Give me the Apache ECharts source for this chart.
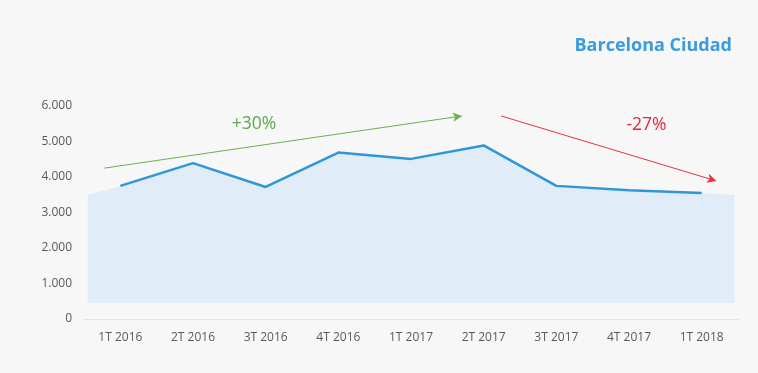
<!DOCTYPE html>
<html><head><meta charset="utf-8">
<script src="https://cdn.jsdelivr.net/npm/echarts@6/dist/echarts.min.js"></script>
<style>html,body{margin:0;padding:0;background:#f7f7f7}#c{width:758px;height:373px}</style>
</head><body><div id="c"></div>
<script>
const categories = ['1T 2016','2T 2016','3T 2016','4T 2016','1T 2017','2T 2017','3T 2017','4T 2017','1T 2018'];
const values = [3750, 4390, 3720, 4690, 4510, 4890, 3750, 3630, 3550];
// background band: edges extend slightly beyond first/last category
const bandEdges = [[-0.45, 3490], [8.45, 3490]];
const bandBase = 450;
const upArrow = [[-0.22, 4250], [4.7, 5720]];
const downArrow = [[5.24, 5720], [8.2, 3890]];
const upLabel = { text: '+30%', coord: [1.84, 5480] };
const downLabel = { text: '-27%', coord: [7.24, 5460] };
const title = 'Barcelona Ciudad';

const bandData = [bandEdges[0]].concat(values.map((v, i) => [i, v]), [bandEdges[1]]);
const fmt = v => String(v).replace(/\B(?=(\d{3})+(?!\d))/g, '.');

const chart = echarts.init(document.getElementById('c'));
chart.setOption({
  backgroundColor: '#f7f7f7',
  animation: false,
  title: { text: title, right: 21, top: 32, textStyle: { fontFamily: 'Open Sans', fontWeight: 'bold', fontSize: 18, color: '#3a9be1' } },
  grid: { left: 84, right: 20, top: 106, bottom: 54 },
  xAxis: [
    { type: 'category', data: categories, boundaryGap: true,
      axisLine: { lineStyle: { color: '#e4e4e4', width: 1 } }, axisTick: { show: false },
      axisLabel: { color: '#595959', fontFamily: 'Open Sans', fontSize: 12, margin: 13 } },
    { type: 'value', min: -0.5, max: 8.5, show: false }
  ],
  yAxis: { type: 'value', min: 0, max: 6000, interval: 1000,
    axisLine: { show: false }, axisTick: { show: false }, splitLine: { show: false },
    axisLabel: { color: '#595959', fontFamily: 'Open Sans', fontSize: 12, margin: 12, formatter: fmt } },
  series: [
    { type: 'line', xAxisIndex: 1, data: bandData, symbol: 'none', silent: true,
      lineStyle: { width: 0 }, areaStyle: { color: '#e0edf8', opacity: 1, origin: bandBase }, z: 1,
      markLine: { silent: true, symbol: ['none', 'arrow'], symbolSize: [7, 9], label: { show: false },
        data: [
          [{ coord: upArrow[0], lineStyle: { color: '#6ab04c', width: 1, type: 'solid' } }, { coord: upArrow[1] }],
          [{ coord: downArrow[0], lineStyle: { color: '#e8333f', width: 1, type: 'solid' } }, { coord: downArrow[1] }]
        ] },
      markPoint: { silent: true, symbol: 'circle', symbolSize: 0,
        data: [
          { coord: upLabel.coord, label: { show: true, formatter: upLabel.text, color: '#5aab48', fontFamily: 'Open Sans', fontSize: 17.5, position: 'inside' } },
          { coord: downLabel.coord, label: { show: true, formatter: downLabel.text, color: '#e5283a', fontFamily: 'Open Sans', fontSize: 17.5, position: 'inside' } }
        ] } },
    { type: 'line', xAxisIndex: 0, data: values, symbol: 'none', z: 3,
      lineStyle: { color: '#2f96d7', width: 2.5 } }
  ]
});
</script></body></html>
